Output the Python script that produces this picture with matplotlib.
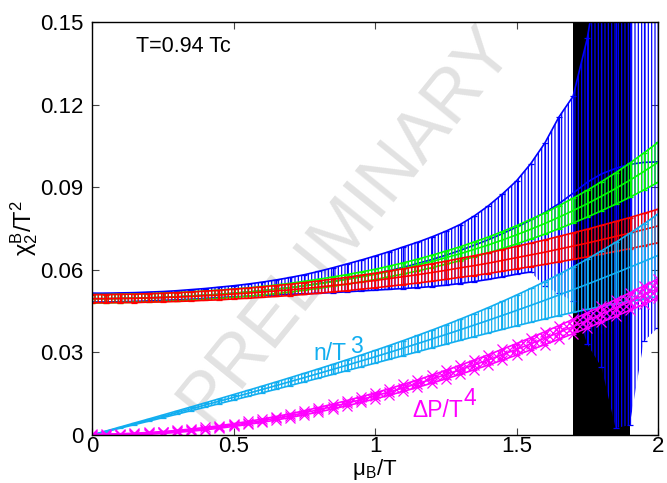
import numpy as np
import matplotlib
matplotlib.use('Agg')
import matplotlib.pyplot as plt

plt.rcParams['font.family'] = ['Liberation Sans', 'DejaVu Sans']
plt.rcParams['hatch.linewidth'] = 0.9
plt.rcParams['mathtext.fontset'] = 'custom'
plt.rcParams['mathtext.rm'] = 'Liberation Sans'
plt.rcParams['mathtext.it'] = 'Liberation Sans'

# chemical potential grid mu_B/T
mu = np.arange(41) * 0.05

# values below are in units of 1e-3
# blue: central value, lower and upper end of the error bar
blue_c = [49.5, 49.5, 49.6, 49.7, 49.8, 50.0, 50.2, 50.5, 50.8, 51.1,
          51.5, 51.9, 52.4, 53.0, 53.5, 54.2, 55.0, 55.8, 56.6, 57.6,
          58.6, 59.7, 60.9, 62.3, 63.7, 65.3, 67.0, 68.9, 70.9, 73.1,
          75.5, 78.0, 80.8, 84.0, 87.8, 91.8, 94.8, 96.8, 98.3, 99.0, 99.2]
blue_lo = [48.3, 48.3, 48.4, 48.5, 48.7, 48.9, 49.1, 49.3, 49.6, 49.9,
           50.2, 50.4, 50.7, 50.9, 51.1, 51.3, 51.5, 51.7, 52.0, 52.3,
           52.6, 52.9, 53.2, 53.5, 53.9, 54.4, 55.0, 55.7, 56.5, 57.4,
           58.4, 59.2, 54.0, 51.4, 48.5, 33.0, 24.7, 2.5, 3.6, 34.0, 39.0]
blue_hi = [51.5, 51.5, 51.6, 51.7, 51.9, 52.1, 52.4, 52.8, 53.2, 53.7,
           54.2, 54.8, 55.5, 56.3, 57.2, 58.2, 59.4, 60.7, 62.1, 63.5,
           65.0, 66.6, 68.3, 70.0, 71.9, 74.0, 76.4, 79.5, 83.2, 87.5,
           92.3, 98.5, 106.0, 115.5, 123.0, 144.0, 175.0, 190.0, 200.0, 200.0, 200.0]

green_c = [49.5, 49.5, 49.6, 49.7, 49.8, 50.0, 50.2, 50.5, 50.8, 51.1,
           51.5, 51.9, 52.4, 52.9, 53.5, 54.2, 54.9, 55.7, 56.5, 57.4,
           58.3, 59.4, 60.5, 61.7, 63.0, 64.4, 65.8, 67.4, 69.0, 70.8,
           72.7, 74.7, 76.8, 79.1, 81.5, 84.0, 86.7, 89.5, 92.5, 95.7, 99.0]
green_e = [1.5, 1.5, 1.5, 1.5, 1.5, 1.5, 1.5, 1.51, 1.51, 1.51,
           1.52, 1.53, 1.55, 1.56, 1.59, 1.61, 1.65, 1.69, 1.74, 1.79,
           1.86, 1.94, 2.03, 2.13, 2.25, 2.38, 2.53, 2.70, 2.88, 3.09,
           3.32, 3.58, 3.86, 4.17, 4.51, 4.88, 5.28, 5.72, 6.19, 6.71, 7.26]

red_c = [49.5, 49.5, 49.6, 49.6, 49.8, 49.9, 50.1, 50.3, 50.6, 50.8,
         51.2, 51.5, 51.9, 52.3, 52.7, 53.2, 53.7, 54.3, 54.8, 55.5,
         56.1, 56.8, 57.5, 58.2, 59.0, 59.8, 60.7, 61.5, 62.4, 63.4,
         64.4, 65.4, 66.4, 67.5, 68.6, 69.7, 70.9, 72.1, 73.3, 74.6, 75.9]
red_e = [1.5, 1.5, 1.51, 1.53, 1.55, 1.57, 1.6, 1.64, 1.68, 1.73,
         1.79, 1.85, 1.91, 1.99, 2.06, 2.15, 2.24, 2.33, 2.43, 2.54,
         2.65, 2.77, 2.89, 3.02, 3.16, 3.3, 3.44, 3.6, 3.75, 3.92,
         4.09, 4.26, 4.44, 4.63, 4.82, 5.02, 5.23, 5.44, 5.65, 5.87, 6.1]

# n/T^3
cyan_c = [0.0, 1.35, 2.70, 4.06, 5.41, 6.77, 8.14, 9.51, 10.89, 12.28,
          13.68, 15.08, 16.50, 17.93, 19.38, 20.84, 22.32, 23.81, 25.32, 26.85,
          28.40, 29.97, 31.56, 33.18, 34.82, 36.48, 38.18, 39.90, 41.64, 43.42,
          45.23, 47.06, 48.93, 50.84, 52.78, 54.75, 56.77, 58.81, 60.90, 63.03, 65.2]
cyan_e = [0.0, 0.10, 0.20, 0.30, 0.39, 0.49, 0.59, 0.69, 0.79, 0.89,
          1.00, 1.10, 1.21, 1.32, 1.44, 1.56, 1.69, 1.82, 1.97, 2.14,
          2.32, 2.51, 2.73, 2.97, 3.22, 3.52, 3.84, 4.21, 4.62, 5.08,
          5.59, 6.15, 6.78, 7.48, 8.26, 9.13, 10.09, 11.14, 12.31, 13.60, 15.01]

# Delta P/T^4
mag_c = [0.0, 0.04, 0.15, 0.33, 0.58, 0.91, 1.30, 1.77, 2.31, 2.92,
         3.61, 4.36, 5.18, 6.07, 7.03, 8.06, 9.16, 10.32, 11.55, 12.84,
         14.20, 15.62, 17.11, 18.65, 20.26, 21.93, 23.65, 25.43, 27.27, 29.16,
         31.11, 33.11, 35.15, 37.26, 39.40, 41.60, 43.83, 46.12, 48.44, 50.80, 53.2]
mag_e = [0.3, 0.3, 0.31, 0.32, 0.33, 0.35, 0.37, 0.4, 0.43, 0.46,
         0.5, 0.54, 0.59, 0.64, 0.69, 0.75, 0.81, 0.88, 0.95, 1.02,
         1.1, 1.18, 1.27, 1.36, 1.45, 1.55, 1.65, 1.76, 1.87, 1.98,
         2.1, 2.22, 2.35, 2.48, 2.61, 2.75, 2.89, 3.04, 3.19, 3.34, 3.5]

# excluded region
band = (1.7, 1.9)

s = 1e-3
blue_c, blue_lo, blue_hi = [np.array(a) * s for a in (blue_c, blue_lo, blue_hi)]
green_c, green_e = np.array(green_c) * s, np.array(green_e) * s
red_c, red_e = np.array(red_c) * s, np.array(red_e) * s
cyan_c, cyan_e = np.array(cyan_c) * s, np.array(cyan_e) * s
mag_c, mag_e = np.array(mag_c) * s, np.array(mag_e) * s

fig = plt.figure(figsize=(6.67, 4.83), dpi=100)
ax = fig.add_axes([0.138, 0.0994, 0.8485, 0.8551])

# watermark
ax.text(0.9, 0.0765, 'PRELIMINARY', color='#e2e2e2', fontsize=52,
        rotation=51, ha='center', va='center', zorder=0)

ax.axvspan(band[0], band[1], color='k', zorder=1, lw=0)


def band_series(x, c, lo, hi, col, hatch='|||||', lo_line=None, z=2):
    # dense error bars shown as a hatched band, caps as edge lines
    ax.fill_between(x, lo, hi, facecolor='none', edgecolor=col, hatch=hatch,
                    lw=0, zorder=z)
    ax.errorbar(x, c, yerr=[c - lo, hi - c], fmt='none', ecolor=col,
                elinewidth=0.9, capsize=2.5, capthick=0.9, zorder=z)
    keep = np.ones(len(x), bool) if lo_line is None else lo_line
    ax.plot(x, c, color=col, lw=1.2, zorder=z)
    ax.plot(x[keep], lo[keep], color=col, lw=1.2, zorder=z)
    ax.plot(x, hi, color=col, lw=1.2, zorder=z)


band_series(mu, blue_c, blue_lo, blue_hi, '#0000ff', lo_line=mu <= 1.56, z=2)
band_series(mu, green_c, green_c - green_e, green_c + green_e, '#00ff00', z=3)
band_series(mu, red_c, red_c - red_e, red_c + red_e, '#ff0000', z=4)
band_series(mu, cyan_c, cyan_c - cyan_e, cyan_c + cyan_e, '#12aef0', z=5)
band_series(mu, mag_c, mag_c - mag_e, mag_c + mag_e, '#ff00ff', hatch='xxxxx', z=6)
for yy in (mag_c - mag_e, mag_c, mag_c + mag_e):
    ax.plot(mu, yy, 'x', color='#ff00ff', ms=7, mew=0.9, zorder=6)

ax.set_xlim(0, 2)
ax.set_ylim(0, 0.15)
ax.set_xticks([0, 0.5, 1, 1.5, 2])
ax.set_xticklabels(['0', '0.5', '1', '1.5', '2'])
ax.set_yticks([0, 0.03, 0.06, 0.09, 0.12, 0.15])
ax.set_yticklabels(['0', '0.03', '0.06', '0.09', '0.12', '0.15'])
ax.tick_params(direction='in', top=True, right=True, length=5, labelsize=16,
               width=0.8, color='#444444')
ax.tick_params(axis='x', pad=1)
ax.tick_params(axis='y', pad=6)
for sp in ax.spines.values():
    sp.set_linewidth(1.0)
    sp.set_zorder(8)

ax.set_xlabel(r'$\mathregular{\mu_B/T}$', fontsize=16, labelpad=0)
ax.set_ylabel(r'$\mathregular{\chi_2^B/T^2}$', fontsize=17, labelpad=0)

ax.text(0.155, 0.1391, 'T=0.94 Tc', fontsize=15.5, va='baseline', zorder=9)
ax.text(0.781, 0.0272, 'n/T', color='#12aef0', fontsize=16.5, va='baseline', zorder=9)
ax.text(0.912, 0.0298, '3', color='#12aef0', fontsize=16.5, va='baseline', zorder=9)
ax.text(1.131, 0.0065, '\u0394P/T', color='#ff00ff', fontsize=16.5, va='baseline', zorder=9)
ax.text(1.311, 0.0109, '4', color='#ff00ff', fontsize=16.5, va='baseline', zorder=9)

fig.savefig('out.png', dpi=100)
